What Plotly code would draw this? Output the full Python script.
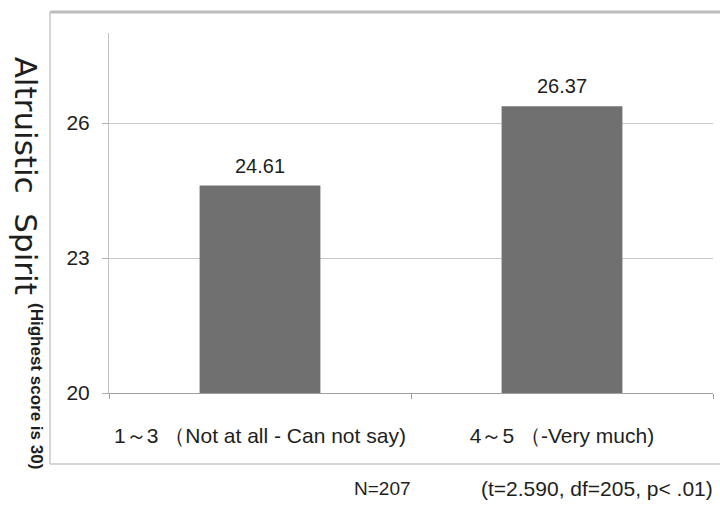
import plotly.graph_objects as go

categories = ["1～3 （Not at all - Can not say)", "4～5 （-Very much)"]
means = [24.61, 26.37]
mean_labels = ["24.61", "26.37"]
y_ticks = [20, 23, 26]
y_title = "Altruistic  Spirit"
y_subtitle = "(Highest score is 30)"
n_note = "N=207"
stat_note = "(t=2.590, df=205, p< .01)"

FONT = "Liberation Sans, Arial, sans-serif"
TXT = "#1e1e1e"

fig = go.Figure()
fig.add_trace(go.Bar(
    x=categories, y=means, width=0.4,
    marker=dict(color="#707070", line=dict(width=0)),
    hoverinfo="skip",
))

for c, v, lab in zip(categories, means, mean_labels):
    fig.add_annotation(x=c, y=v, xref="x", yref="y", text=lab, showarrow=False,
                       yanchor="middle", yshift=20,
                       font=dict(family=FONT, size=20, color=TXT))

fig.update_layout(
    width=720, height=508,
    margin=dict(l=109, r=7, t=33, b=115),
    paper_bgcolor="white", plot_bgcolor="white",
    showlegend=False,
    font=dict(family=FONT, color=TXT),
    xaxis=dict(
        type="category",
        tickmode="array", tickvals=categories, ticktext=categories,
        tickson="boundaries", ticks="outside", ticklen=5, tickcolor="#a0a0a0",
        showline=True, linecolor="#a0a0a0", linewidth=1,
        showgrid=False, zeroline=False,
        tickfont=dict(family=FONT, size=21, color=TXT),
        ticklabelstandoff=24,
    ),
    yaxis=dict(
        range=[20, 28],
        tickmode="array", tickvals=y_ticks, ticktext=[str(t) for t in y_ticks],
        ticks="outside", ticklen=6, tickcolor="#b0b0b0",
        showline=True, linecolor="#c0c0c0", linewidth=1,
        showgrid=True, gridcolor="#c8c8c8", gridwidth=1,
        zeroline=False,
        tickfont=dict(family=FONT, size=21, color=TXT),
        ticklabelstandoff=8,
    ),
)

# outer frame lines
fig.add_shape(type="line", xref="paper", yref="paper", x0=-0.0977, x1=1.02, y0=1.058, y1=1.058,
              line=dict(color="#bdbdbd", width=3))
fig.add_shape(type="line", xref="paper", yref="paper", x0=-0.0977, x1=-0.0977, y0=1.058, y1=-0.197,
              line=dict(color="#c8c8c8", width=1.5))
fig.add_shape(type="line", xref="paper", yref="paper", x0=-0.0977, x1=1.02, y0=-0.197, y1=-0.197,
              line=dict(color="#c8c8c8", width=1.5))

fig.add_annotation(xref="paper", yref="paper", x=-0.137, y=0.603, text=y_title,
                   textangle=90, showarrow=False, xanchor="center", yanchor="middle",
                   font=dict(family="DejaVu Sans", size=31, color=TXT))
fig.add_annotation(xref="paper", yref="paper", x=-0.119, y=0.019, text="<b>" + y_subtitle + "</b>",
                   textangle=90, showarrow=False, xanchor="center", yanchor="middle",
                   font=dict(family=FONT, size=17, color=TXT))
fig.add_annotation(xref="paper", yref="paper", x=0.4536, y=-0.264, text=n_note,
                   showarrow=False, xanchor="center", yanchor="middle",
                   font=dict(family=FONT, size=19, color=TXT))
fig.add_annotation(xref="paper", yref="paper", x=0.808, y=-0.264, text=stat_note,
                   showarrow=False, xanchor="center", yanchor="middle",
                   font=dict(family=FONT, size=21, color=TXT))

fig.write_html("out.html", config={"displayModeBar": False},
               post_script="document.body.style.margin='0';document.body.style.padding='0';")
